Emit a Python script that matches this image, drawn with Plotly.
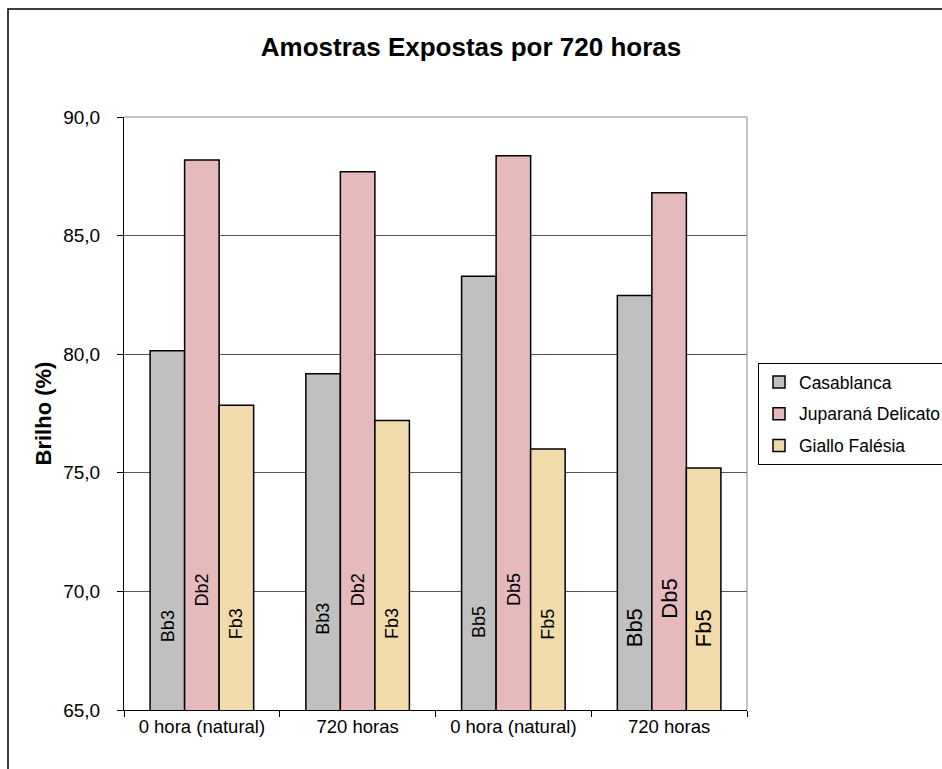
import plotly.graph_objects as go

# ---- data ----
categories = ["0 hora (natural)", "720 horas", "0 hora (natural)", "720 horas"]
series_names = ["Casablanca", "Juparaná Delicato", "Giallo Falésia"]
casablanca = [80.15, 79.18, 83.29, 82.47]
juparana = [88.19, 87.69, 88.37, 86.81]
giallo = [77.85, 77.20, 76.00, 75.20]

labels_casablanca = ["Bb3", "Bb3", "Bb5", "Bb5"]
labels_juparana = ["Db2", "Db2", "Db5", "Db5"]
labels_giallo = ["Fb3", "Fb3", "Fb5", "Fb5"]
# height (in axis units) of the centre of each in-bar label
labelpos_casablanca = [68.55, 68.85, 68.70, 68.47]
labelpos_juparana = [70.07, 70.07, 70.07, 69.70]
labelpos_giallo = [68.63, 68.63, 68.63, 68.43]
label_font_sizes = [18, 18, 18, 22]

y_ticks = [65, 70, 75, 80, 85, 90]

colors = ["#C0C0C0", "#E6BABD", "#F1DBAB"]
FONT = "Liberation Sans, Arial, sans-serif"
BARGAP = 0.335

keys = ["g%d" % i for i in range(len(categories))]
values = [casablanca, juparana, giallo]
labels = [labels_casablanca, labels_juparana, labels_giallo]
labelpos = [labelpos_casablanca, labelpos_juparana, labelpos_giallo]

fig = go.Figure()
for name, vals, col in zip(series_names, values, colors):
    fig.add_trace(go.Bar(
        x=keys, y=vals, name=name, legendgroup=name,
        marker=dict(color=col, line=dict(color="black", width=1.5)),
    ))

# in-bar rotated labels, positioned at the centre of each grouped bar
nser = len(series_names)
w = (1 - BARGAP) / nser
annotations = []
for s in range(nser):
    off = (s - (nser - 1) / 2) * w
    for i in range(len(categories)):
        annotations.append(dict(
            x=i + off, y=labelpos[s][i], xref="x", yref="y",
            text=labels[s][i], showarrow=False, textangle=-90,
            font=dict(family=FONT, size=label_font_sizes[i], color="black"),
            xanchor="center", yanchor="middle",
        ))

shapes = [
    # top / right border of plot area (grey)
    dict(type="path", xref="paper", yref="paper",
         path="M 0,1 L 1,1 L 1,0", line=dict(color="#888888", width=1), layer="above"),
    # outer chart border
    dict(type="rect", xref="paper", yref="paper",
         x0=(8 - 124) / 623, x1=(960 - 124) / 623,
         y0=(710 - 790) / 593, y1=(710 - 9) / 593,
         line=dict(color="black", width=1.5), layer="below"),
]

fig.update_layout(
    width=942, height=769,
    margin=dict(l=124, r=195, t=117, b=59, autoexpand=False),
    paper_bgcolor="white", plot_bgcolor="white",
    barmode="group", bargap=BARGAP, bargroupgap=0,
    separators=",.",
    font=dict(family=FONT, size=18.5, color="black"),
    title=dict(text="Amostras Expostas por 720 horas",
               font=dict(family=FONT, size=26, color="black", weight="bold"),
               x=0.5, xref="container", xanchor="center",
               y=1 - 47 / 769, yref="container", yanchor="middle"),
    xaxis=dict(type="category", tickmode="array", tickvals=keys, ticktext=categories,
               tickson="boundaries", ticks="outside", ticklen=6, tickcolor="black",
               showline=True, linecolor="black", linewidth=1, showgrid=False,
               tickfont=dict(size=18.5)),
    yaxis=dict(range=[65, 90], tickmode="array", tickvals=y_ticks, tickformat=".1f",
               ticks="outside", ticklen=6, tickcolor="black",
               showline=True, linecolor="black", linewidth=1,
               showgrid=True, gridcolor="#555555", gridwidth=1, zeroline=False,
               ticklabelstandoff=13, tickfont=dict(size=19),
               title=dict(text="Brilho (%)", standoff=5,
                          font=dict(size=22, weight="bold"))),
    legend=dict(x=(758 - 124) / 623, y=(710 - 363) / 593, xanchor="left", yanchor="top",
                bordercolor="black", borderwidth=1, bgcolor="white",
                font=dict(size=17.5), traceorder="grouped", tracegroupgap=6,
                itemwidth=30),
    annotations=annotations,
    shapes=shapes,
)

fig.write_html("out.html", config={"displayModeBar": False},
               post_script="document.body.style.margin='0px';document.body.style.overflow='hidden';")
